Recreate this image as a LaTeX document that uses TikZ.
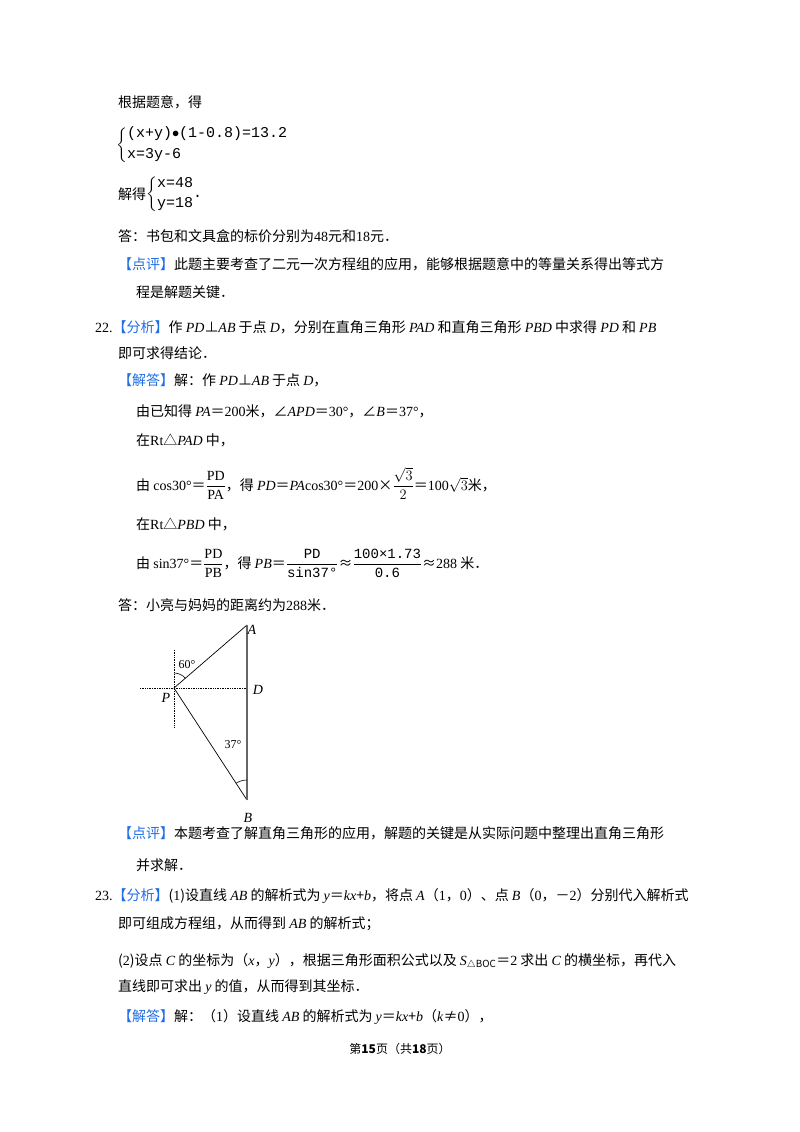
\documentclass[tikz,border=0pt]{standalone}
\usepackage{fontspec}
\usepackage{amsmath}
\usetikzlibrary{calc}
\setmainfont{Noto Sans CJK SC}
\newfontfamily\mono{Liberation Mono}
\newfontfamily\lat{Liberation Serif}
\definecolor{hl}{RGB}{30,110,230}
\newcommand{\hb}[1]{\textcolor{hl}{【#1】}}
\newcommand{\vv}[1]{\textit{\lat #1}}
\begin{document}
\begin{tikzpicture}[x=1pt,y=-1pt,
  t/.style={anchor=base west,inner sep=0pt,font=\fontsize{14}{16}\selectfont},
  sys/.style={anchor=west,inner sep=0pt,font=\mono\fontsize{15}{17}\selectfont},
  lbl/.style={inner sep=1pt,font=\lat\itshape\fontsize{14}{15}\selectfont},
  dot/.style={densely dotted,line width=0.7pt}]
\useasboundingbox (0,0) rectangle (800,1132);
\fill[white] (0,0) rectangle (800,1132);
\node[t] (l1) at (118,107) {根据题意，得};
\node[sys] (s1) at (116,145)
 {$\left\{\begin{array}{@{}l@{}}\text{\mono\fontsize{15}{17}\selectfont (x+y)$\bullet$(1-0.8)=13.2}\\[4pt]\text{\mono\fontsize{15}{17}\selectfont x=3y-6}\end{array}\right.$};
\node[t] (l2) at (118,199) {解得};
\node[sys] (s2) at (146,194)
 {$\left\{\begin{array}{@{}l@{}}\text{\mono\fontsize{15}{17}\selectfont x=48}\\[3pt]\text{\mono\fontsize{15}{17}\selectfont y=18}\end{array}\right.$\kern-1pt.};
\node[t] (l3) at (118,241) {答：书包和文具盒的标价分别为{\lat 48}元和{\lat 18}元．};
\node[t] (l4) at (118,269) {\hb{点评}此题主要考查了二元一次方程组的应用，能够根据题意中的等量关系得出等式方};
\node[t] (l5) at (136,297) {程是解题关键．};
\node[t] (l6) at (95,332) {{\lat 22.}\hb{分析}作 \vv{PD}⊥\vv{AB} 于点 \vv{D}，分别在直角三角形 \vv{PAD} 和直角三角形 \vv{PBD} 中求得 \vv{PD} 和 \vv{PB}};
\node[t] (l7) at (118,358) {即可求得结论．};
\node[t] (l8) at (118,385) {\hb{解答}解：作 \vv{PD}⊥\vv{AB} 于点 \vv{D}，};
\node[t] (l9) at (136,416) {由已知得 \vv{PA}＝{\lat 200}米，∠\vv{APD}＝{\lat 30°}，∠\vv{B}＝{\lat 37°}，};
\node[t] (l10) at (136,445) {在{\lat Rt}△\vv{PAD} 中，};
\node[t] (l11) at (136,490) {由 {\lat cos30°}＝$\dfrac{\text{\lat PD}}{\text{\lat PA}}$，得 \vv{PD}＝\vv{PA}{\lat cos30°}＝{\lat 200}×$\dfrac{\sqrt{3}}{2}$＝{\lat 100}$\sqrt{3}$米，};
\node[t] (l12) at (136,529) {在{\lat Rt}△\vv{PBD} 中，};
\node[t] (l13) at (136,568) {由 {\lat sin37°}＝$\dfrac{\text{\lat PD}}{\text{\lat PB}}$，得 \vv{PB}＝$\dfrac{\text{\mono PD}}{\text{\mono sin37°}}$≈$\dfrac{\text{\mono 100×1.73}}{\text{\mono 0.6}}$≈{\lat 288} 米．};
\node[t] (l14) at (118,610) {答：小亮与妈妈的距离约为{\lat 288}米．};
% diagram
\coordinate (A) at (247,625);
\coordinate (P) at (174,688);
\coordinate (D) at (247,688);
\coordinate (B) at (247,800);
\coordinate (vt) at (174,650);
\coordinate (vb) at (174,727);
\coordinate (hl) at (140,688);
\draw[dot] (vt) -- (vb);
\draw[dot] (hl) -- (D);
\draw[line width=0.7pt] (P) -- (A);
\draw[line width=0.7pt] (P) -- (B);
\draw[line width=1.2pt,gray!80!black] (A) -- (B);
\draw[line width=0.6pt] ($(P)+(0,-15)$) arc[start angle=-90,end angle=-41,radius=15];
\draw[line width=0.6pt] ($(B)+(0,-20)$) arc[start angle=-90,end angle=-123,radius=20];
\node[lbl] (nA) at (252,630) {A};
\node[lbl] (nD) at (258,690) {D};
\node[lbl] (nP) at (166,698) {P};
\node[lbl] (nB) at (248,818) {B};
\node[inner sep=0pt,font=\lat\fontsize{12}{13}\selectfont] (a60) at (187,665) {60°};
\node[inner sep=0pt,font=\lat\fontsize{12}{13}\selectfont] (a37) at (233,745) {37°};
\node[t] (l15) at (118,838) {\hb{点评}本题考查了解直角三角形的应用，解题的关键是从实际问题中整理出直角三角形};
\node[t] (l16) at (136,870) {并求解．};
\node[t] (l17) at (95,900) {{\lat 23.}\hb{分析}({\lat 1})设直线 \vv{AB} 的解析式为 \vv{y}＝\vv{kx}+\vv{b}，将点 \vv{A}（{\lat 1}，{\lat 0}）、点 \vv{B}（{\lat 0}，－{\lat 2}）分别代入解析式};
\node[t] (l18) at (118,928) {即可组成方程组，从而得到 \vv{AB} 的解析式；};
\node[t] (l19) at (118,965) {({\lat 2})设点 \vv{C} 的坐标为（\vv{x}，\vv{y}），根据三角形面积公式以及 \vv{S}$_{\triangle \mathit{BOC}}$＝{\lat 2} 求出 \vv{C} 的横坐标，再代入};
\node[t] (l20) at (118,991) {直线即可求出 \vv{y} 的值，从而得到其坐标．};
\node[t] (l21) at (118,1021) {\hb{解答}解：（{\lat 1}）设直线 \vv{AB} 的解析式为 \vv{y}＝\vv{kx}+\vv{b}（\vv{k}≠{\lat 0}），};
\node[anchor=base,inner sep=0pt,font=\fontsize{12}{14}\selectfont] (ft) at (400,1053) {第\textbf{15}页（共\textbf{18}页）};
\end{tikzpicture}
\end{document}
